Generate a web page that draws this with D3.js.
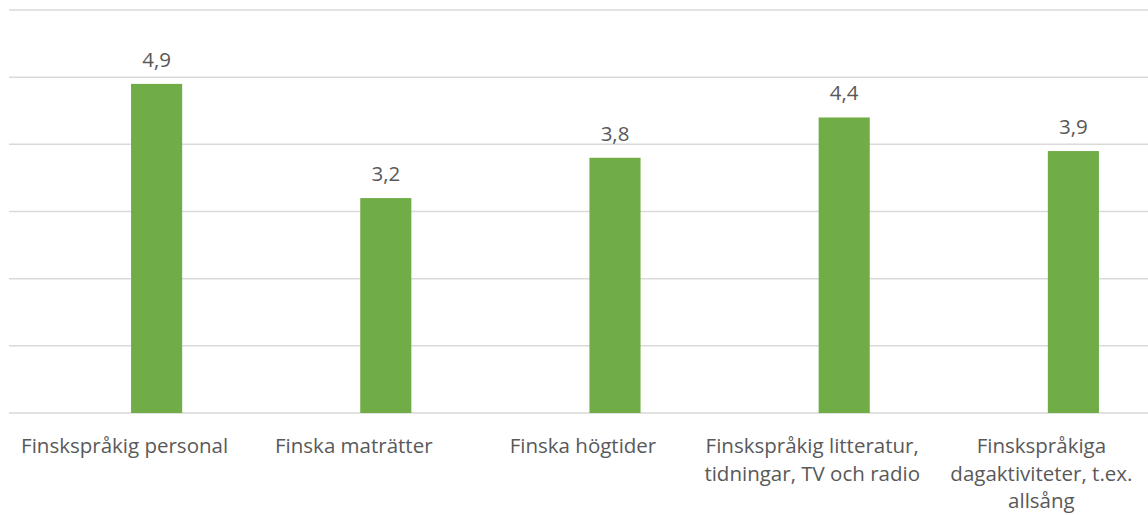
<!DOCTYPE html>
<html>
<head>
<meta charset="utf-8">
<script src="https://cdn.jsdelivr.net/npm/d3@7"></script>
<style>
  body { margin: 0; background: #fff; }
  text { font-family: "Open Sans", "Noto Sans", sans-serif; fill: #595959; }
</style>
</head>
<body>
<script>
// data
var categories = [
  ["Finskspråkig personal"],
  ["Finska maträtter"],
  ["Finska högtider"],
  ["Finskspråkig litteratur,", "tidningar, TV och radio"],
  ["Finskspråkiga", "dagaktiviteter, t.ex.", "allsång"]
];
var values = [4.9, 3.2, 3.8, 4.4, 3.9];
var valueLabels = ["4,9", "3,2", "3,8", "4,4", "3,9"];
var gridTicks = [0, 1, 2, 3, 4, 5, 6];

var totalWidth = 1148, totalHeight = 515;
var labelShift = -32; // category labels sit a bit left of the bars

var svg = d3.select("body").append("svg")
    .attr("width", totalWidth)
    .attr("height", totalHeight);

// scales
var x = d3.scaleBand()
    .domain(d3.range(values.length))
    .range([42, 1188])
    .paddingInner(0.777)
    .paddingOuter(0.3885);

var y = d3.scaleLinear()
    .domain([0, 6])
    .range([413, 10]);

// gridlines
svg.append("g")
    .selectAll("line")
    .data(gridTicks)
    .enter()
    .append("line")
        .attr("x1", 9)
        .attr("x2", totalWidth)
        .attr("y1", function(d) {return y(d)})
        .attr("y2", function(d) {return y(d)})
        .attr("stroke", "#d9d9d9")
        .attr("stroke-width", 1.5);

// bars
svg.append("g")
    .selectAll("rect")
    .data(values)
    .enter()
    .append("rect")
        .attr("x", function(d, i) {return x(i)})
        .attr("y", function(d) {return y(d)})
        .attr("width", x.bandwidth())
        .attr("height", function(d) {return y(0) - y(d)})
        .attr("fill", "#70ad47");

// value labels
svg.append("g")
    .selectAll("text")
    .data(values)
    .enter()
    .append("text")
        .attr("x", function(d, i) {return x(i) + x.bandwidth() / 2})
        .attr("y", function(d) {return y(d) - 17})
        .attr("text-anchor", "middle")
        .style("font-size", "20.5px")
        .text(function(d, i) {return valueLabels[i]});

// category labels
var cat = svg.append("g")
    .selectAll("text")
    .data(categories)
    .enter()
    .append("text")
        .attr("x", function(d, i) {return x(i) + x.bandwidth() / 2 + labelShift})
        .attr("y", y(0) + 40)
        .attr("text-anchor", "middle")
        .style("font-size", "20.5px");

cat.selectAll("tspan")
    .data(function(d) {return d})
    .enter()
    .append("tspan")
        .attr("x", function() {return d3.select(this.parentNode).attr("x")})
        .attr("dy", function(d, i) {return i == 0 ? 0 : 27.5})
        .text(function(d) {return d});
</script>
</body>
</html>
